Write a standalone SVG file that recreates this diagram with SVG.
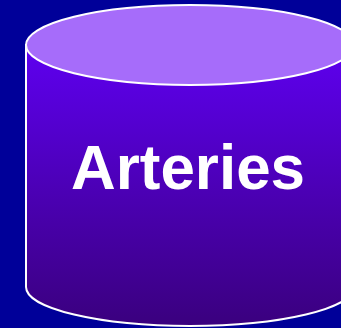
<svg xmlns="http://www.w3.org/2000/svg" width="341" height="328" viewBox="0 0 341 328">
<defs>
<linearGradient id="body" x1="0" y1="0" x2="0" y2="1">
<stop offset="0" stop-color="#5E00F0"/>
<stop offset="1" stop-color="#3A007E"/>
</linearGradient>
<style>
.edge{stroke:#FFFFFF;stroke-width:2}
.label{font-family:"Liberation Sans",Arial,sans-serif;font-weight:bold;font-size:63px;fill:#FFFFFF}
</style>
</defs>
<rect width="341" height="328" fill="#000099"/>
<g id="arteries">
<path class="edge" fill="url(#body)" d="M26,45 L26,287 A164,39 0 0 0 354,287 L354,45 Z"/>
<ellipse class="edge" cx="190" cy="45" rx="164" ry="40" fill="#A66CFA"/>
<text class="label" x="188" y="189" text-anchor="middle" textLength="234" lengthAdjust="spacingAndGlyphs">Arteries</text>
</g>
</svg>
